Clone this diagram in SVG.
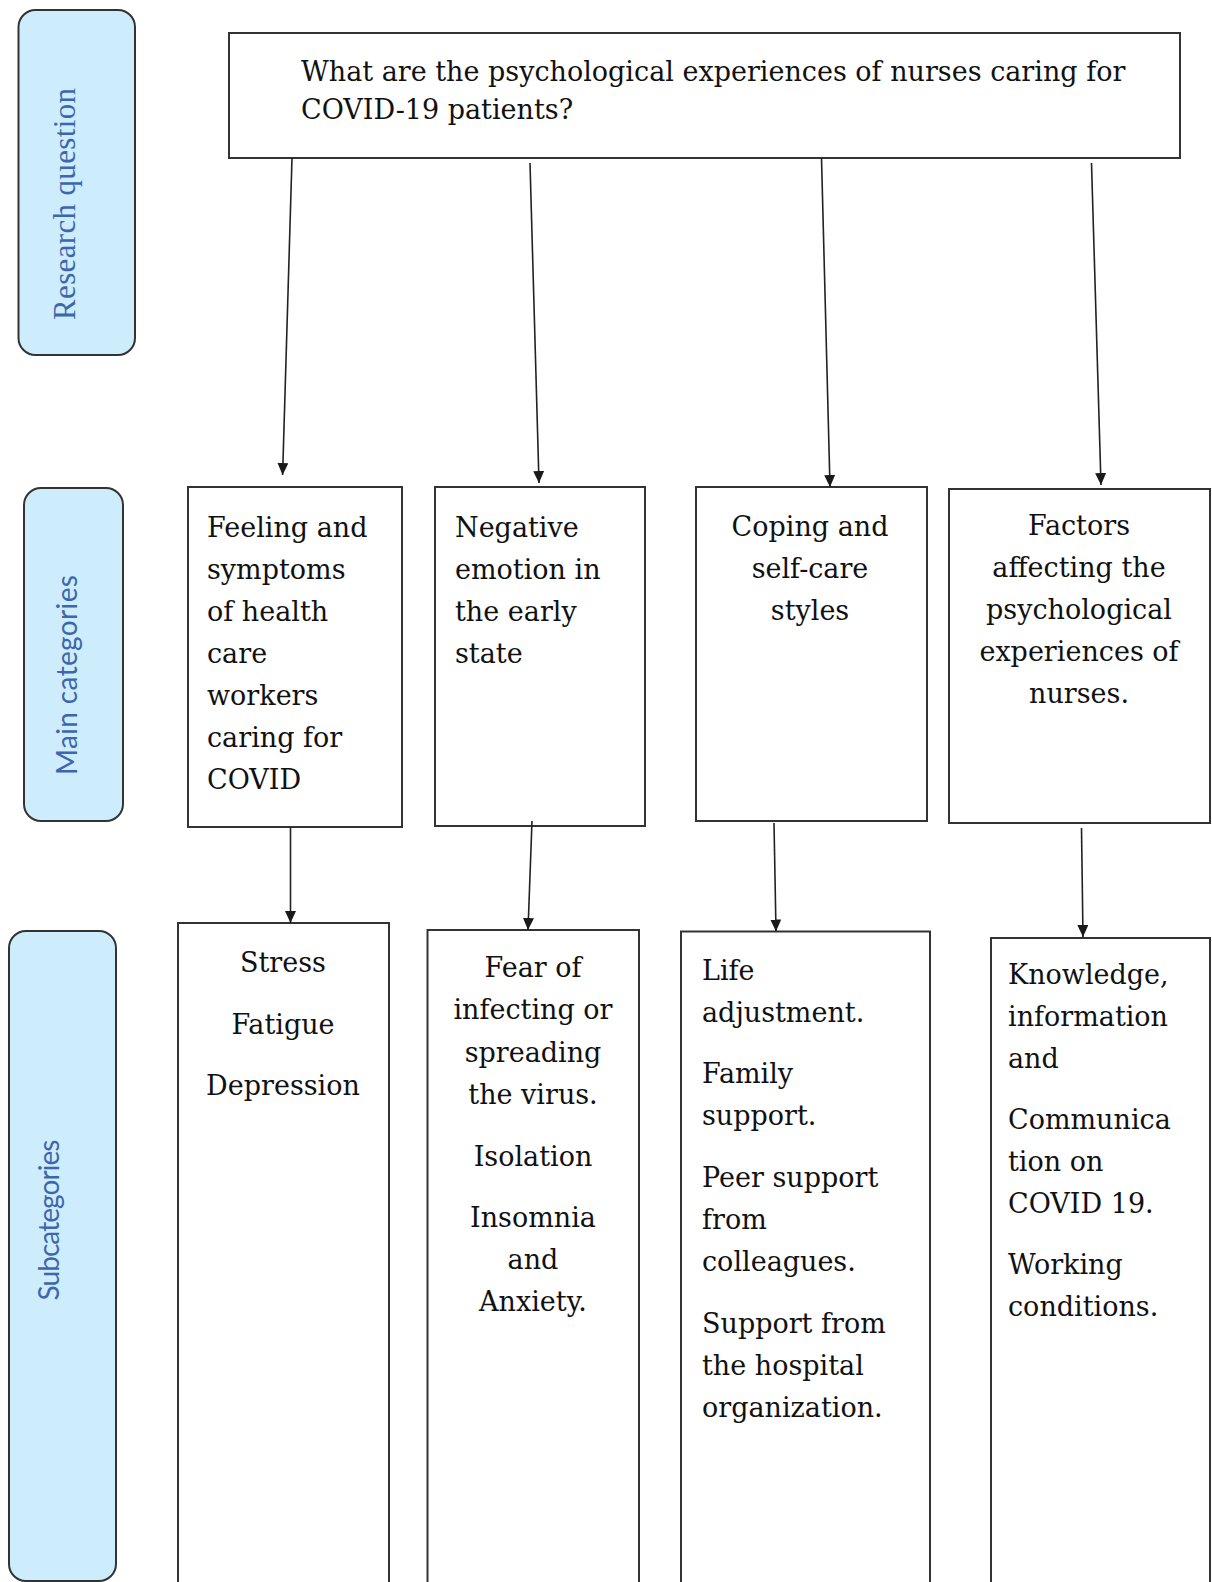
<svg xmlns="http://www.w3.org/2000/svg" width="1212" height="1582" viewBox="0 0 1212 1582">
<defs>
<marker id="arr" viewBox="0 0 12 11" refX="12" refY="5.5" markerWidth="12" markerHeight="11" markerUnits="userSpaceOnUse" orient="auto">
<path d="M0,0 L12,5.5 L0,11 Z" fill="#1a1a1a"/>
</marker>
<style>
.box{fill:#fff;stroke:#333;stroke-width:2}
.lab{fill:#cdedfd;stroke:#333;stroke-width:2}
.t{font-family:"DejaVu Serif","Liberation Serif",serif;font-size:27px;fill:#111}
.c{text-anchor:middle}
.ls{font-family:"Liberation Serif","DejaVu Serif",serif;font-size:31px;fill:#3d66ad;text-anchor:middle}
.la{font-family:Lato,"Open Sans","Liberation Sans",sans-serif;font-size:28px;fill:#3d66ad;text-anchor:middle}
.cn line{stroke:#222;stroke-width:1.6;marker-end:url(#arr)}
</style>
</defs>
<rect width="1212" height="1582" fill="#fff"/>

<g id="label-research-question">
<rect class="lab" x="18.5" y="10" width="116.5" height="345" rx="17"/>
<text class="ls" transform="translate(75,204) rotate(-90)" textLength="232">Research question</text>
</g>
<g id="label-main-categories">
<rect class="lab" x="24" y="488" width="99" height="333" rx="17"/>
<text class="la" transform="translate(77,675) rotate(-90)" textLength="200">Main categories</text>
</g>
<g id="label-subcategories">
<rect class="lab" x="9" y="931" width="107" height="650" rx="17"/>
<text class="la" transform="translate(59,1220) rotate(-90)" textLength="161">Subcategories</text>
</g>

<g id="question">
<rect class="box" x="229" y="33" width="951" height="125"/>
<text class="t"><tspan x="301" y="81">What are the psychological experiences of nurses caring for</tspan><tspan x="301" y="119">COVID-19 patients?</tspan></text>
</g>

<g id="cat1">
<rect class="box" x="188" y="487" width="214" height="340"/>
<text class="t"><tspan x="207" y="537">Feeling and</tspan><tspan x="207" y="579">symptoms</tspan><tspan x="207" y="621">of health</tspan><tspan x="207" y="663">care</tspan><tspan x="207" y="705">workers</tspan><tspan x="207" y="747">caring for</tspan><tspan x="207" y="789">COVID</tspan></text>
</g>
<g id="cat2">
<rect class="box" x="435" y="487" width="210" height="339"/>
<text class="t"><tspan x="455" y="537">Negative</tspan><tspan x="455" y="579">emotion in</tspan><tspan x="455" y="621">the early</tspan><tspan x="455" y="663">state</tspan></text>
</g>
<g id="cat3">
<rect class="box" x="696" y="487" width="231" height="334"/>
<text class="t c"><tspan x="810" y="536">Coping and</tspan><tspan x="810" y="578">self-care</tspan><tspan x="810" y="620">styles</tspan></text>
</g>
<g id="cat4">
<rect class="box" x="949" y="489" width="261" height="334"/>
<text class="t c"><tspan x="1079" y="535">Factors</tspan><tspan x="1079" y="577">affecting the</tspan><tspan x="1079" y="619">psychological</tspan><tspan x="1079" y="661">experiences of</tspan><tspan x="1079" y="703">nurses.</tspan></text>
</g>

<g id="sub1">
<rect class="box" x="178" y="923" width="211" height="700"/>
<text class="t c"><tspan x="283" y="972">Stress</tspan><tspan x="283" y="1034">Fatigue</tspan><tspan x="283" y="1095">Depression</tspan></text>
</g>
<g id="sub2">
<rect class="box" x="427.5" y="930" width="211.5" height="700"/>
<text class="t c"><tspan x="533" y="977">Fear of</tspan><tspan x="533" y="1019">infecting or</tspan><tspan x="533" y="1062">spreading</tspan><tspan x="533" y="1104">the virus.</tspan><tspan x="533" y="1166">Isolation</tspan><tspan x="533" y="1227">Insomnia</tspan><tspan x="533" y="1269">and</tspan><tspan x="533" y="1311">Anxiety.</tspan></text>
</g>
<g id="sub3">
<rect class="box" x="681" y="931.5" width="249" height="700"/>
<text class="t"><tspan x="702" y="980">Life</tspan><tspan x="702" y="1022">adjustment.</tspan><tspan x="702" y="1083">Family</tspan><tspan x="702" y="1125">support.</tspan><tspan x="702" y="1187">Peer support</tspan><tspan x="702" y="1229">from</tspan><tspan x="702" y="1271">colleagues.</tspan><tspan x="702" y="1333">Support from</tspan><tspan x="702" y="1375">the hospital</tspan><tspan x="702" y="1417">organization.</tspan></text>
</g>
<g id="sub4">
<rect class="box" x="991" y="938" width="219" height="700"/>
<text class="t"><tspan x="1008" y="984">Knowledge,</tspan><tspan x="1008" y="1026">information</tspan><tspan x="1008" y="1068">and</tspan><tspan x="1008" y="1129">Communica</tspan><tspan x="1008" y="1171">tion on</tspan><tspan x="1008" y="1213">COVID 19.</tspan><tspan x="1008" y="1274">Working</tspan><tspan x="1008" y="1316">conditions.</tspan></text>
</g>

<g id="connectors" class="cn">
<line x1="292" y1="158" x2="282.6" y2="475"/>
<line x1="530" y1="163" x2="539" y2="483"/>
<line x1="821.5" y1="158" x2="830" y2="487"/>
<line x1="1091.5" y1="163" x2="1101" y2="485"/>
<line x1="290.5" y1="827" x2="290.5" y2="923"/>
<line x1="532" y1="821" x2="528" y2="930"/>
<line x1="774" y1="823" x2="776" y2="931.5"/>
<line x1="1081.5" y1="828" x2="1083" y2="937"/>
</g>
</svg>
